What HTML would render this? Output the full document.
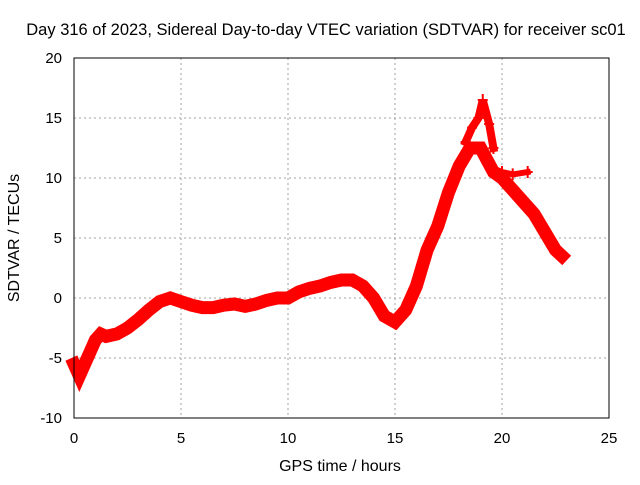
<!DOCTYPE html>
<html><head><meta charset="utf-8"><style>
body{margin:0;background:#fff}
text{font-family:"Liberation Sans",sans-serif;font-size:15px;fill:#000}
</style></head><body>
<svg id="c" width="640" height="480"></svg>
<script>
const hours=[0,0.25,0.5,0.75,1,1.25,1.5,2,2.5,3,3.5,4,4.5,5,5.5,6,6.5,7,7.5,8,8.5,9,9.5,10,10.5,11,11.5,12,12.5,13,13.5,14,14.5,15,15.5,16,16.5,17,17.5,18,18.5,19,19.3,19.6,20,20.5,21,21.5,22,22.5,22.8];
const values=[-5.5,-6.5,-5.5,-4.5,-3.5,-3,-3.2,-3,-2.5,-1.8,-1,-0.3,0,-0.3,-0.6,-0.8,-0.8,-0.6,-0.5,-0.7,-0.5,-0.2,0,0,0.5,0.8,1,1.3,1.5,1.5,1,0,-1.5,-2,-1,1,4,6,8.8,11,12.5,12.5,11.5,10.5,10,9,8,7,5.5,4,3.5];
const branchHours=[18.3,18.6,18.9,19.1,19.4,19.6];
const branchValues=[13,14.2,15,16.5,14.5,12.5];
const branch2Hours=[19.6,20,20.5,21.2];
const branch2Values=[10.8,10.5,10.3,10.5];
const xTicks=[0,5,10,15,20,25];
const yTicks=[-10,-5,0,5,10,15,20];
const X0=74,X1=609,Y0=418,Y1=58;
const sx=v=>X0+(v-0)/25*(X1-X0);
const sy=v=>Y0-(v+10)/30*(Y0-Y1);
const svg=document.getElementById('c');
const NS='http://www.w3.org/2000/svg';
function mk(t,a,p){const e=document.createElementNS(NS,t);for(const k in a)e.setAttribute(k,a[k]);(p||svg).appendChild(e);return e;}
xTicks.forEach(v=>{if(v>0&&v<25){const l=mk('line',{x1:sx(v),x2:sx(v),y1:Y1,y2:Y0,stroke:'#a0a0a0','stroke-dasharray':'2,3'});

}
const t=mk('text',{x:sx(v),y:Y0+25,'text-anchor':'middle'});t.textContent=v;

});
yTicks.forEach(v=>{if(v>-10&&v<20){const l=mk('line',{x1:X0,x2:X1,y1:sy(v),y2:sy(v),stroke:'#a0a0a0','stroke-dasharray':'2,3'});

}
const t=mk('text',{x:X0-12,y:sy(v)+5,'text-anchor':'end'});t.textContent=v;

});
function series(hs,vs,w,name){
const d=hs.map((h,i)=>(i?'L':'M')+sx(h)+','+sy(vs[i])).join('');
const p=mk('path',{d:d,fill:'none',stroke:'#ff0000','stroke-width':w,'stroke-linejoin':'miter','stroke-linecap':'square'});


hs.forEach((h,i)=>{const m=mk('path',{d:`M${sx(h)-5},${sy(vs[i])}h10M${sx(h)},${sy(vs[i])-6}v12`,stroke:'#ff0000','stroke-width':2});

});
}
series(hours,values,13,'sdtvar-series');
series(branchHours,branchValues,8,'sdtvar-branch');
series(branch2Hours,branch2Values,6,'sdtvar-branch-2');
const b=mk('rect',{x:X0,y:Y1,width:X1-X0,height:Y0-Y1,fill:'none',stroke:'#000'});


const ti=mk('text',{x:326,y:35,'text-anchor':'middle',style:'font-size:16.5px'});ti.textContent='Day 316 of 2023, Sidereal Day-to-day VTEC variation (SDTVAR) for receiver sc01';


const xt=mk('text',{x:340,y:471,'text-anchor':'middle',style:'font-size:16px'});xt.textContent='GPS time / hours';


const yt=mk('text',{x:19,y:238,'text-anchor':'middle',transform:'rotate(-90 19 238)',style:'font-size:16px'});yt.textContent='SDTVAR / TECUs';


</script>
</body></html>
